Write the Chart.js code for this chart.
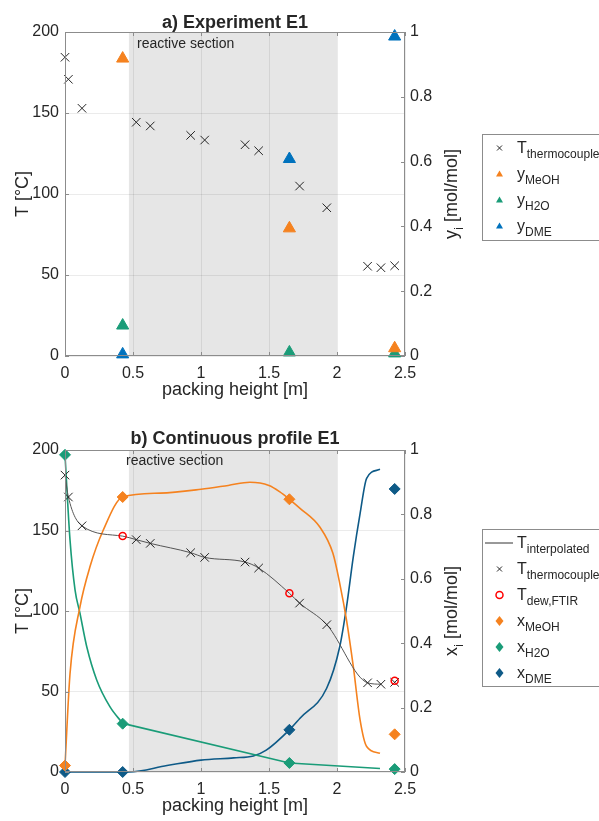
<!doctype html>
<html lang="en">
<head>
<meta charset="utf-8">
<title>Experiment E1</title>
<script src="https://cdn.jsdelivr.net/npm/chart.js@4.4.1/dist/chart.umd.min.js"></script>
<style>
  body { margin: 0; background: #fff; }
  canvas { display: block; }
</style>
</head>
<body>
<canvas id="topChart" width="599" height="410"></canvas>
<canvas id="bottomChart" width="599" height="411"></canvas>
<script>
// thermocouple readings, same in both plots
const thermoX = [0, 0.025, 0.125, 0.524, 0.627, 0.924, 1.027, 1.324, 1.424, 1.725, 1.925, 2.225, 2.323, 2.424];
const thermoT = [184.4, 170.8, 152.9, 144.3, 142, 136.2, 133.3, 130.4, 126.7, 104.9, 91.5, 55.4, 54.5, 55.7];

// a) gas samples
const sampleX = [0.424, 1.65, 2.424];
const yMeOH = [0.918, 0.394, 0.024];
const yH2O = [0.094, 0.011, 0.008];
const yDME = [0.005, 0.608, 0.986];

// b) continuous profile
const tInterpX = [0, 0.025, 0.125, 0.424, 0.524, 0.627, 0.924, 1.027, 1.324, 1.424, 1.65, 1.725, 1.925, 2.225, 2.323];
const tInterpT = [184.4, 170.8, 152.9, 146.5, 144.3, 142, 136.2, 133.3, 130.4, 126.7, 111, 104.9, 91.5, 55.4, 54.5];
const dewX = [0.424, 1.65, 2.424];
const dewT = [146.6, 111, 56.7];
const liqX = [0, 0.424, 1.65, 2.424];
const xMeOH = [0.02, 0.854, 0.847, 0.117];
const xH2O = [0.985, 0.15, 0.028, 0.009];
const xDME = [0, 0, 0.131, 0.879];

// points
const meohCurveX = [0, 0.037, 0.11, 0.184, 0.28, 0.424, 0.7, 1.0, 1.2, 1.36, 1.5, 1.58, 1.65, 1.728, 1.875, 1.97, 2.02, 2.07, 2.12, 2.17, 2.218, 2.316];
const meohCurveY = [0.02, 0.306, 0.513, 0.638, 0.75, 0.854, 0.866, 0.878, 0.89, 0.9, 0.89, 0.87, 0.847, 0.819, 0.76, 0.679, 0.586, 0.472, 0.327, 0.161, 0.079, 0.058];
const h2oCurveX = [0, 0.037, 0.074, 0.11, 0.16, 0.233, 0.33, 0.424];
const h2oCurveY = [0.985, 0.72, 0.565, 0.493, 0.389, 0.286, 0.203, 0.151];
const h2oTailX = [0.424, 1.65, 2.316];
const h2oTailY = [0.151, 0.028, 0.011];
const dmeCurveX = [0, 0.424, 0.47, 0.75, 1.0, 1.24, 1.385, 1.48, 1.65, 1.728, 1.924, 2.02, 2.07, 2.12, 2.17, 2.218, 2.316];
const dmeCurveY = [0, 0, 0, 0.02, 0.037, 0.044, 0.05, 0.068, 0.131, 0.167, 0.26, 0.389, 0.513, 0.669, 0.803, 0.912, 0.94];

const reactiveFrom = 0.47, reactiveTo = 2.0;

const FONT = '"Liberation Sans", Arial, sans-serif';
const INK = '#262626';
const EDGE = '#8c8c8c';
const ORANGE = '#f5821f', GREEN = '#1a9c78', BLUE = '#0072bd', DARKBLUE = '#0e5a87';

const pts = (xs, ys) => xs.map((x, i) => ({ x, y: ys[i] }));

function richWidth(ctx, parts, size) {
  let w = 0;
  for (const [t, sub] of parts) {
    ctx.font = (sub ? size * 0.75 : size) + 'px ' + FONT;
    w += ctx.measureText(t).width;
  }
  return w;
}
function richText(ctx, x, y, parts, size) {
  let cx = x;
  for (const [t, sub] of parts) {
    ctx.font = (sub ? size * 0.75 : size) + 'px ' + FONT;
    ctx.fillText(t, cx, y + (sub ? size * 0.36 : 0));
    cx += ctx.measureText(t).width;
  }
}

function drawMark(ctx, kind, x, y, color) {
  ctx.save();
  ctx.fillStyle = color;
  ctx.strokeStyle = color;
  ctx.beginPath();
  if (kind === 'cross') {
    ctx.lineWidth = 1;
    ctx.moveTo(x - 2.5, y - 2.5); ctx.lineTo(x + 2.5, y + 2.5);
    ctx.moveTo(x + 2.5, y - 2.5); ctx.lineTo(x - 2.5, y + 2.5);
    ctx.stroke();
  } else if (kind === 'tri') {
    ctx.moveTo(x, y - 3.5); ctx.lineTo(x + 3.5, y + 2.5); ctx.lineTo(x - 3.5, y + 2.5);
    ctx.closePath(); ctx.fill();
  } else if (kind === 'dia') {
    ctx.moveTo(x, y - 5); ctx.lineTo(x + 4, y); ctx.lineTo(x, y + 5); ctx.lineTo(x - 4, y);
    ctx.closePath(); ctx.fill();
  } else if (kind === 'circ') {
    ctx.lineWidth = 1.5;
    ctx.arc(x, y, 3.5, 0, Math.PI * 2);
    ctx.stroke();
  } else if (kind === 'line') {
    ctx.lineWidth = 1;
    ctx.moveTo(x - 14, y); ctx.lineTo(x + 14, y);
    ctx.stroke();
  }
  ctx.restore();
}

function decoPlugin(cfg) {
  return {
    id: 'deco',
    beforeDraw(chart) {
      const { ctx, chartArea: a, scales: { x } } = chart;
      const l = x.getPixelForValue(reactiveFrom), r = x.getPixelForValue(reactiveTo);
      ctx.save();
      ctx.fillStyle = '#e6e6e6';
      ctx.fillRect(l, a.top, r - l, a.bottom - a.top);
      ctx.restore();
    },
    afterDraw(chart) {
      const { ctx, chartArea: a, scales } = chart;
      ctx.save();
      // axes box with inward ticks
      ctx.strokeStyle = EDGE;
      ctx.lineWidth = 1;
      ctx.strokeRect(a.left + 0.5, a.top + 0.5, a.right - a.left - 1, a.bottom - a.top - 1);
      ctx.beginPath();
      for (const t of scales.x.ticks) {
        const px = Math.round(scales.x.getPixelForValue(t.value)) + 0.5;
        ctx.moveTo(px, a.bottom); ctx.lineTo(px, a.bottom - 4);
        ctx.moveTo(px, a.top); ctx.lineTo(px, a.top + 4);
      }
      for (const t of scales.y.ticks) {
        const py = Math.round(scales.y.getPixelForValue(t.value)) + 0.5;
        ctx.moveTo(a.left, py); ctx.lineTo(a.left + 4, py);
      }
      for (const t of scales.yR.ticks) {
        const py = Math.round(scales.yR.getPixelForValue(t.value)) + 0.5;
        ctx.moveTo(a.right, py); ctx.lineTo(a.right - 4, py);
      }
      ctx.stroke();

      ctx.fillStyle = INK;
      // title
      ctx.textAlign = 'center';
      ctx.textBaseline = 'alphabetic';
      ctx.font = 'bold 18px ' + FONT;
      ctx.fillText(cfg.title, (a.left + a.right) / 2, cfg.titleY);
      // reactive section label
      ctx.textAlign = 'left';
      ctx.font = '14px ' + FONT;
      ctx.fillText('reactive section', cfg.noteX, cfg.noteY);
      // x axis title
      ctx.textAlign = 'center';
      ctx.font = '18px ' + FONT;
      ctx.fillText('packing height [m]', (a.left + a.right) / 2, a.bottom + 39);
      // y axis titles
      const cy = (a.top + a.bottom) / 2;
      ctx.save();
      ctx.translate(28, cy);
      ctx.rotate(-Math.PI / 2);
      ctx.fillText('T [°C]', 0, 0);
      ctx.restore();
      const rParts = [[cfg.rightVar, false], ['i', true], [' [mol/mol]', false]];
      ctx.save();
      ctx.translate(457, cy);
      ctx.rotate(-Math.PI / 2);
      ctx.textAlign = 'left';
      richText(ctx, -richWidth(ctx, rParts, 18) / 2, 0, rParts, 18);
      ctx.restore();

      // legend
      const lg = cfg.legend;
      ctx.fillStyle = '#fff';
      ctx.fillRect(482, lg.top, 200, lg.bottom - lg.top);
      ctx.strokeStyle = EDGE;
      ctx.strokeRect(482.5, lg.top + 0.5, 200, lg.bottom - lg.top);
      lg.items.forEach((it, i) => {
        const ry = lg.first + i * lg.step;
        drawMark(ctx, it.mark, it.mark === 'line' ? 499 : 499.5, ry, it.color);
        ctx.fillStyle = INK;
        ctx.textAlign = 'left';
        richText(ctx, 517, ry + 4.5, [[it.main, false], [it.sub, true]], 16);
      });
      ctx.restore();
    }
  };
}

const fmt = v => String(+Number(v).toFixed(2));

function makeScales(xHeight) {
  return {
    x: {
      type: 'linear', min: 0, max: 2.5,
      afterFit: s => { s.height = xHeight; },
      ticks: { stepSize: 0.5, callback: fmt, color: INK, font: { family: FONT, size: 16 }, padding: 8, maxRotation: 0, autoSkip: false },
      grid: { color: 'rgba(0,0,0,0.08)', drawTicks: false },
      border: { display: false }
    },
    y: {
      type: 'linear', position: 'left', min: 0, max: 200,
      afterFit: s => { s.width = 65; },
      ticks: { stepSize: 50, callback: fmt, color: INK, font: { family: FONT, size: 16 }, padding: 6 },
      grid: { color: 'rgba(0,0,0,0.08)', drawTicks: false },
      border: { display: false }
    },
    yR: {
      type: 'linear', position: 'right', min: 0, max: 1,
      afterFit: s => { s.width = 60; },
      ticks: { stepSize: 0.2, callback: fmt, color: INK, font: { family: FONT, size: 16 }, padding: 5 },
      grid: { display: false, drawTicks: false },
      border: { display: false }
    }
  };
}

const baseOptions = (top, xHeight) => ({
  responsive: false,
  animation: false,
  events: [],
  layout: { padding: { left: 0, right: 134, top: top, bottom: 0 }, autoPadding: false },
  plugins: { legend: { display: false }, tooltip: { enabled: false } },
  scales: makeScales(xHeight)
});

const markerSet = (data, axis, style, radius, color, order) => ({
  data, yAxisID: axis, showLine: false, clip: false, order,
  pointStyle: style, pointRadius: radius,
  pointBackgroundColor: color, pointBorderColor: color, pointBorderWidth: 1
});

new Chart(document.getElementById('topChart'), {
  type: 'scatter',
  data: {
    datasets: [
      markerSet(pts(thermoX, thermoT), 'y', 'crossRot', 6, '#262626', 0),
      markerSet(pts(sampleX, yMeOH), 'yR', 'triangle', 7, ORANGE, 0),
      markerSet(pts(sampleX, yH2O), 'yR', 'triangle', 7, GREEN, 0),
      markerSet(pts(sampleX, yDME), 'yR', 'triangle', 7, BLUE, 0)
    ]
  },
  options: baseOptions(32, 54),
  plugins: [decoPlugin({
    title: 'a) Experiment E1', titleY: 28, noteX: 137, noteY: 48, rightVar: 'y',
    legend: {
      top: 134, bottom: 240, first: 148, step: 26,
      items: [
        { mark: 'cross', color: '#262626', main: 'T', sub: 'thermocouple' },
        { mark: 'tri', color: ORANGE, main: 'y', sub: 'MeOH' },
        { mark: 'tri', color: GREEN, main: 'y', sub: 'H2O' },
        { mark: 'tri', color: BLUE, main: 'y', sub: 'DME' }
      ]
    }
  })]
});

const curve = (data, axis, color, width, order, smooth) => ({
  data, yAxisID: axis, showLine: true, clip: false, order,
  borderColor: color, borderWidth: width, pointRadius: 0,
  tension: 0, cubicInterpolationMode: smooth ? 'monotone' : 'default'
});

new Chart(document.getElementById('bottomChart'), {
  type: 'scatter',
  data: {
    datasets: [
      curve(pts(tInterpX, tInterpT), 'y', '#555', 1, 2, true),
      curve(pts(meohCurveX, meohCurveY), 'yR', ORANGE, 1.6, 2, true),
      curve(pts(h2oCurveX, h2oCurveY), 'yR', GREEN, 1.6, 2, true),
      curve(pts(h2oTailX, h2oTailY), 'yR', GREEN, 1.6, 2, false),
      curve(pts(dmeCurveX, dmeCurveY), 'yR', DARKBLUE, 1.6, 2, true),
      markerSet(pts(thermoX, thermoT), 'y', 'crossRot', 6, '#262626', 1),
      { ...markerSet(pts(dewX, dewT), 'y', 'circle', 3.5, 'red', 0), pointBackgroundColor: 'rgba(0,0,0,0)', pointBorderWidth: 1.5 },
      markerSet(pts(liqX, xMeOH), 'yR', 'rectRot', 5.5, ORANGE, 1),
      markerSet(pts(liqX, xH2O), 'yR', 'rectRot', 5.5, GREEN, 1),
      markerSet(pts(liqX, xDME), 'yR', 'rectRot', 5.5, DARKBLUE, 1)
    ]
  },
  options: baseOptions(40, 49),
  plugins: [decoPlugin({
    title: 'b) Continuous profile E1', titleY: 34, noteX: 126, noteY: 55, rightVar: 'x',
    legend: {
      top: 119, bottom: 276, first: 133, step: 26,
      items: [
        { mark: 'line', color: '#333', main: 'T', sub: 'interpolated' },
        { mark: 'cross', color: '#262626', main: 'T', sub: 'thermocouple' },
        { mark: 'circ', color: 'red', main: 'T', sub: 'dew,FTIR' },
        { mark: 'dia', color: ORANGE, main: 'x', sub: 'MeOH' },
        { mark: 'dia', color: GREEN, main: 'x', sub: 'H2O' },
        { mark: 'dia', color: DARKBLUE, main: 'x', sub: 'DME' }
      ]
    }
  })]
});
</script>
</body>
</html>
